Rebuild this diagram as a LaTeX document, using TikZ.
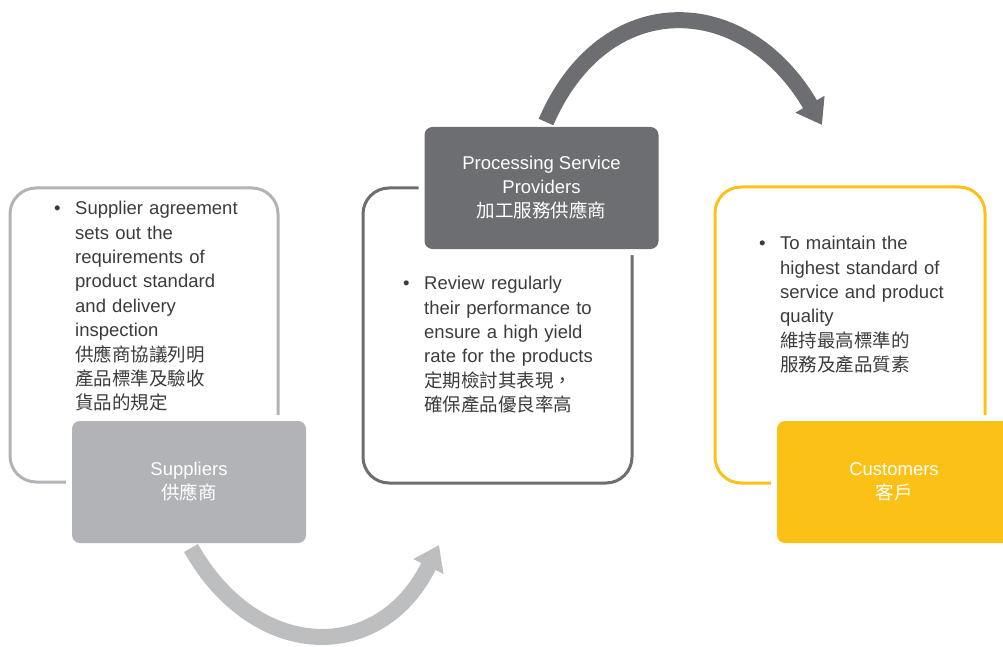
\documentclass[tikz,border=0pt]{standalone}
\usepackage{fontspec}
\setmainfont{Liberation Sans}
\newfontfamily\cjk{Noto Sans CJK TC}
\usetikzlibrary{arrows.meta}
\definecolor{supgray}{HTML}{B1B3B6}
\definecolor{procgray}{HTML}{6D6E71}
\definecolor{custyellow}{HTML}{FCC117}
\definecolor{arrowgray}{HTML}{BCBEC0}
\definecolor{textgray}{HTML}{3B3B3B}
\tikzset{
    myframe/.style = {rectangle, rounded corners=26pt, line width=3pt, inner sep=0pt},
    myframeg/.style = {myframe, draw=supgray, minimum width=268pt, minimum height=294pt},
    myframed/.style = {myframe, draw=procgray, minimum width=269pt, minimum height=295pt},
    myframey/.style = {myframe, draw=custyellow, minimum width=270pt, minimum height=296pt},
    mybox/.style = {rectangle, rounded corners=8pt, inner sep=0pt, align=center, text=white, minimum width=234pt, minimum height=122pt, font=\fontsize{18.5}{24}\selectfont, preaction={draw=white,line width=12pt}},
    myboxg/.style = {mybox, fill=supgray},
    myboxd/.style = {mybox, fill=procgray},
    myboxy/.style = {mybox, fill=custyellow},
    mytext/.style = {anchor=north west, inner sep=0pt, align=left, text width=230pt, text=textgray, font=\fontsize{18.5}{24.4}\selectfont},
    edgeg/.style = {line width=16pt, arrowgray, -{Triangle[width=32pt,length=24pt]}}, % lower
    edged/.style = {line width=16pt, procgray, -{Triangle[width=32pt,length=24pt]}}, % upper
}
\newcommand{\mybullet}{\leftskip=21pt\llap{\makebox[21pt][l]{\textbullet}}}

\begin{document}
\begin{tikzpicture}[x=1pt,y=-1pt]
\clip (0,0) rectangle (1003,647);
%
\node[myframeg] at (144,335) (supf) {};
\node[myframed] at (497.5,335.5) (procf) {};
\node[myframey] at (850,335) (custf) {};
%
\node[myboxg] at (189,482) (sup) {Suppliers\\{\cjk 供應商}};
\node[myboxd] at (541.5,188) (proc) {Processing Service\\Providers\\{\cjk 加工服務供應商}};
\node[myboxy] at (894,482) (cust) {Customers\\{\cjk 客戶}};
%
\node[mytext] at (54,201) (suptxt) {\mybullet Supplier agreement\\sets out the\\requirements of\\product standard\\and delivery\\inspection\\\cjk 供應商協議列明\\產品標準及驗收\\貨品的規定\par};
\node[mytext] at (403,276) (proctxt) {\mybullet Review regularly\\their performance to\\ensure a high yield\\rate for the products\\\cjk 定期檢討其表現，\\確保產品優良率高\par};
\node[mytext] at (759,236) (custtxt) {\mybullet To maintain the\\highest standard of\\service and product\\quality\\\cjk 維持最高標準的\\服務及產品質素\par};
%
\coordinate (b1) at (191,548);
\coordinate (b2) at (439,545);
\coordinate (t1) at (546,122);
\coordinate (t2) at (822,125);
\draw[edgeg] (b1) .. controls (255,662) and (380,665) .. (b2);
\draw[edged] (t1) .. controls (605,-14) and (745,-8) .. (t2);

\end{tikzpicture}
\end{document}
